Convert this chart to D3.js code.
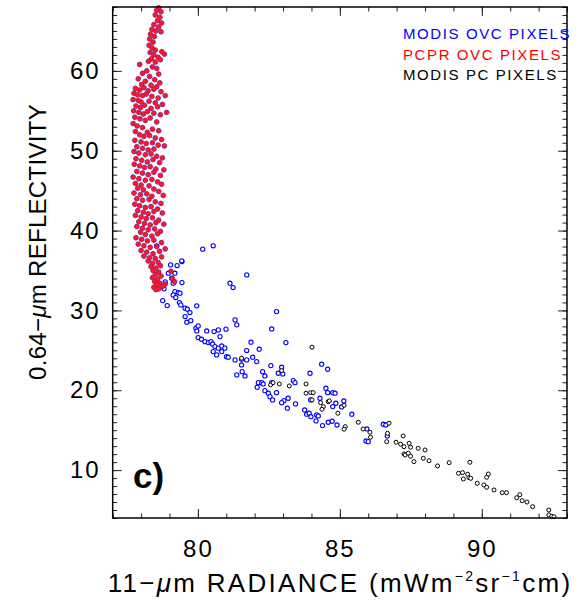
<!DOCTYPE html>
<html>
<head>
<meta charset="utf-8">
<script src="https://cdn.jsdelivr.net/npm/d3@7"></script>
<style>
body { margin: 0; background: #fff; }
text { font-family: "Liberation Sans", Arial, sans-serif; }
</style>
</head>
<body>
<div id="my_dataviz"></div>
<script>
// 11-um radiance vs 0.64-um reflectivity, panel c)
var xMajor = [80, 85, 90];
var xMinor = d3.range(77, 94);
var yMajor = [10, 20, 30, 40, 50, 60];
var yMinor = d3.range(4, 69);

var legendLabels = ["MODIS OVC PIXELS", "PCPR OVC PIXELS", "MODIS PC PIXELS"];
var legendColors = ["#0000ff", "#ff0000", "#000000"];

// MODIS overcast pixels (blue) not hidden under the PCPR points
var modisOvc = [
  [80.17,37.67],[80.54,38.09],[78.55,38.09],[79.04,35.70],[79.27,35.62],[79.44,36.12],[79.19,34.66],
  [78.85,33.57],[79.44,33.49],[81.72,34.45],[81.13,33.41],[81.24,32.86],[78.81,32.70],[79.19,32.36],
  [79.31,32.23],[79.13,31.94],[79.22,31.61],[78.76,31.23],[78.92,30.60],[79.35,30.98],[79.40,30.69],
  [79.55,30.28],[79.63,30.15],[79.72,29.73],[79.96,30.57],[79.55,29.23],[79.61,28.52],[79.75,28.72],
  [82.77,29.85],[81.31,28.81],[81.37,28.19],[79.93,27.77],[80.01,28.06],[79.96,27.43],[80.31,27.43],
  [80.57,27.35],[80.72,27.56],[80.99,27.65],[80.78,26.72],[82.60,27.68],[80.01,26.60],[80.13,26.39],
  [80.25,26.09],[80.37,25.97],[80.46,26.09],[80.52,25.80],[80.60,25.47],[80.72,25.27],[80.84,25.55],
  [80.95,25.27],[80.54,24.84],[80.66,24.43],[80.84,24.84],[81.01,24.21],[81.07,24.14],[81.87,26.02],
  [82.16,25.14],[81.72,24.97],[83.10,25.97],[81.31,23.80],[81.54,23.89],[81.72,23.80],[81.93,24.14],
  [82.07,23.59],[81.54,23.17],[82.57,23.09],[82.95,22.88],[82.83,22.13],[82.99,22.05],[82.28,22.33],
  [82.36,21.79],[81.56,22.33],[81.66,21.79],[81.37,21.92],[82.13,20.95],[82.25,20.95],[82.09,20.38],
  [82.30,20.79],[82.60,20.95],[82.36,19.95],[82.48,19.63],[82.54,19.20],[82.77,19.70],[82.63,18.79],
  [83.36,21.21],[83.42,20.95],[83.03,18.70],[82.95,18.45],[83.18,19.00],[83.44,18.29],[83.15,17.75],
  [84.36,23.26],[84.57,22.63],[83.95,22.13],[84.51,20.25],[84.57,19.70],[84.75,19.70],[84.83,19.63],
  [83.97,18.79],[84.30,19.00],[85.14,18.66],[84.86,18.37],[84.75,17.95],[85.06,17.91],[83.76,17.53],
  [83.83,17.00],[83.92,17.12],[83.98,16.69],[84.18,16.91],[84.24,16.78],[84.16,16.16],[84.59,15.99],
  [84.73,16.12],[84.39,15.57],[84.90,15.65],[85.42,17.00],[85.95,15.15],[86.53,15.74],[86.62,15.65],
  [86.67,14.28],[85.92,13.65],[86.00,13.56],[79.43,36.21],[78.96,34.66],[79.08,34.04],[79.13,33.41],
  [79.37,32.16]
];

// PCPR overcast pixels (red)
var pcprOvc = [
  [78.62,67.9],[78.55,67.6],[78.70,67.4],[78.50,67.0],[78.66,66.7],[78.58,66.3],[78.72,66.0],
  [78.45,65.8],[78.62,65.5],[78.38,65.2],[78.52,65.0],[78.70,64.9],[78.33,64.6],[78.47,64.3],
  [78.30,64.0],[78.42,63.6],[78.28,63.2],[78.38,62.9],[78.50,62.6],[78.32,62.3],[78.45,62.0],
  [78.73,62.4],[78.82,62.1],[78.60,61.7],[78.36,61.5],[78.26,61.2],[78.68,61.4],[78.50,61.1],
  [77.95,60.8],[78.40,60.5],[78.55,60.3],[78.20,60.0],[78.05,59.7],[78.62,59.6],[78.30,59.3],
  [77.90,59.0],[78.48,58.9],[78.15,58.7],[78.66,58.5],[78.02,58.3],[78.35,58.2],[78.55,58.0],
  [77.80,57.8],[77.95,57.6],[78.10,57.9],[78.25,57.5],[78.45,57.7],[78.70,57.4],[77.75,57.2],
  [77.88,57.0],[78.05,56.9],[78.18,57.1],[78.38,56.8],[78.60,56.6],[78.85,56.9],[77.72,56.4],
  [77.90,56.3],[78.00,56.1],[78.28,56.2],[78.50,56.0],[78.75,55.8],[77.82,55.6],[77.98,55.4],
  [78.12,55.7],[78.35,55.3],[78.58,55.5],[77.74,55.0],[77.92,54.8],[78.08,54.6],[78.22,54.9],
  [78.45,54.7],[78.68,54.5],[78.90,54.8],[77.78,54.2],[77.96,54.0],[78.15,53.8],[78.32,54.1],
  [78.55,53.6],[77.72,53.4],[77.86,53.1],[78.05,52.9],[78.40,52.7],[78.62,52.5],[77.80,52.4],
  [78.22,52.3],
  [77.95,52.0],[78.10,51.8],[78.30,51.9],[78.50,51.6],[78.72,51.4],[77.78,51.3],[78.00,51.1],
  [78.18,50.9],[78.40,51.0],[78.60,50.7],[78.82,50.6],[77.85,50.5],[78.05,50.3],[78.25,50.1],
  [78.45,50.2],[77.75,49.9],[77.92,49.7],[78.15,49.5],[78.35,49.6],[78.55,49.3],[78.75,49.1],
  [77.82,49.0],[78.02,48.8],[78.22,48.6],[78.42,48.9],[78.65,48.5],[77.76,48.3],[77.95,48.1],
  [78.12,47.9],[78.32,48.0],[78.52,47.7],[78.80,47.6],[77.85,47.4],[78.05,47.2],[78.25,47.0],
  [78.45,47.3],[78.68,46.9],[77.72,46.7],[77.92,46.5],[78.15,46.3],[78.38,46.4],[78.58,46.1],
  [77.80,45.9],[78.00,45.7],[78.28,45.6],[78.72,45.8],
  [77.88,45.3],[78.08,45.1],[78.45,45.2],[78.62,44.9],[77.75,44.7],[77.98,44.5],[78.20,44.6],
  [78.38,44.3],[78.78,44.4],[77.85,44.0],[78.05,43.8],[78.28,43.9],[78.50,43.6],[78.70,43.4],
  [77.78,43.3],[77.95,43.1],[78.15,42.9],[78.35,43.0],[78.58,42.7],[77.88,42.5],[78.08,42.3],
  [78.25,42.1],[78.45,42.4],[78.75,42.2],[77.80,41.9],[78.00,41.7],[78.18,41.5],[78.40,41.6],
  [78.62,41.3],[77.92,41.1],[78.12,40.9],[78.32,40.7],[78.52,41.0],[78.80,40.8],[77.85,40.5],
  [78.05,40.3],[78.25,40.1],[78.48,40.2],[78.68,39.9],[77.98,39.8],
  [78.15,39.5],[78.38,39.3],[78.58,39.6],[77.82,39.1],[78.02,38.9],[78.22,38.7],[78.45,38.8],
  [78.72,38.5],[77.90,38.3],[78.10,38.1],[78.32,37.9],[78.55,38.0],[78.85,37.7],[78.00,37.5],
  [78.20,37.3],[78.42,37.1],[78.65,37.4],[78.10,36.8],[78.30,36.6],[78.50,36.5],[78.72,36.7],
  [78.25,36.2],[78.40,35.9],[78.60,36.0],[78.35,35.5],[78.52,35.3],[78.68,35.6],[78.42,35.0],
  [78.62,34.8],[79.05,34.9],
  [78.50,34.5],[78.70,34.3],[78.40,34.1],[78.58,33.9],[79.10,34.0],[79.18,33.6],[78.48,33.6],
  [78.66,33.4],[78.55,33.2],[78.75,33.0],[78.45,32.9],[78.62,32.7],[78.85,33.3],[78.52,32.6]
];

// MODIS partly cloudy pixels (black)
var modisPc = [
  [81.54,24.01],[82.95,22.46],[82.56,20.67],[82.65,20.95],[82.87,20.79],[83.22,20.54],[84.02,25.39],
  [83.81,20.79],[83.81,19.63],[83.97,19.70],[84.06,19.70],[84.02,18.79],[84.32,18.45],[84.42,17.95],
  [84.37,17.62],[84.59,18.57],[84.63,18.66],[85.15,18.12],[84.93,17.12],[85.19,15.44],[85.15,15.12],
  [85.65,15.99],[85.82,15.15],[86.06,14.74],[86.08,14.11],[86.73,15.87],[86.68,14.61],[86.65,13.56],
  [87.23,14.28],[86.98,13.49],[87.14,13.24],[87.26,12.93],[87.44,13.36],[87.49,12.86],[87.76,12.73],
  [88.00,12.52],[87.26,12.02],[87.30,11.89],[87.41,12.11],[87.49,11.73],[87.94,11.48],[87.61,11.06],
  [88.14,11.18],[88.44,10.52],[88.85,10.93],[89.58,10.98],[89.18,9.60],[89.32,9.68],[89.35,8.89],
  [89.50,9.48],[89.55,9.05],[89.61,8.97],[90.17,9.10],[90.23,9.51],[89.84,8.35],[90.07,8.14],
  [90.17,7.85],[90.43,7.51],[90.72,7.17],[90.87,7.17],[91.23,6.54],[91.34,6.92],[91.42,6.17],
  [91.59,6.00],[91.79,5.42],[92.36,5.00],[92.36,4.38],[92.46,4.21],[92.54,4.16]
];

var margin = {top: 7, right: 19, bottom: 82, left: 112.7},
    width = 586 - margin.left - margin.right,
    height = 600 - margin.top - margin.bottom;

var svg = d3.select("#my_dataviz")
  .append("svg")
  .attr("width", 586)
  .attr("height", 600)
  .append("g")
  .attr("transform", "translate(" + margin.left + "," + margin.top + ")");

var x = d3.scaleLinear().domain([77, 93]).range([0, width]);
var y = d3.scaleLinear().domain([4, 68]).range([height, 0]);

// points
function dots(data, stroke, fill, r, sw, op) {
  svg.append("g")
    .attr("opacity", op)
    .selectAll("circle")
    .data(data)
    .enter()
    .append("circle")
    .attr("cx", function(d) { return x(d[0]); })
    .attr("cy", function(d) { return y(d[1]); })
    .attr("r", r)
    .attr("fill", fill)
    .attr("stroke", stroke)
    .attr("stroke-width", sw);
}
dots(modisOvc, "#0000ff", "#ffffff", 2.1, 1.1, 1);
dots(modisPc, "#000000", "#ffffff", 2.0, 1.0, 1);
dots(pcprOvc, "#4a20c0", "none", 2.4, 0.9, 0.85);
dots(pcprOvc, "#d8103a", "#ff1c1c", 2.0, 1.0, 1);

// axes, ticks inward on all four sides
function styleAxis(g) {
  g.select(".domain").remove();
  g.selectAll(".tick line").attr("stroke", "#222").attr("stroke-width", 1);
}
svg.append("g").attr("transform", "translate(0," + height + ")")
  .call(d3.axisBottom(x).tickValues(xMinor).tickSize(-4.5).tickFormat("")).call(styleAxis);
svg.append("g").attr("transform", "translate(0," + height + ")")
  .call(d3.axisBottom(x).tickValues(xMajor).tickSize(-9).tickPadding(22)).call(styleAxis);
svg.append("g")
  .call(d3.axisTop(x).tickValues(xMinor).tickSize(-4.5).tickFormat("")).call(styleAxis);
svg.append("g")
  .call(d3.axisTop(x).tickValues(xMajor).tickSize(-9).tickFormat("")).call(styleAxis);
svg.append("g")
  .call(d3.axisLeft(y).tickValues(yMinor).tickSize(-4.5).tickFormat("")).call(styleAxis);
svg.append("g")
  .call(d3.axisLeft(y).tickValues(yMajor).tickSize(-9).tickPadding(12)).call(styleAxis);
svg.append("g").attr("transform", "translate(" + width + ",0)")
  .call(d3.axisRight(y).tickValues(yMinor).tickSize(-4.5).tickFormat("")).call(styleAxis);
svg.append("g").attr("transform", "translate(" + width + ",0)")
  .call(d3.axisRight(y).tickValues(yMajor).tickSize(-9).tickFormat("")).call(styleAxis);

svg.selectAll(".tick text")
  .attr("font-family", "'Liberation Sans', Arial, sans-serif")
  .attr("font-size", 24)
  .attr("fill", "#000")
  .style("letter-spacing", "2px");

svg.append("rect")
  .attr("width", width)
  .attr("height", height)
  .attr("fill", "none")
  .attr("stroke", "#000")
  .attr("stroke-width", 1.5);

// legend
svg.append("g")
  .selectAll("text")
  .data(legendLabels)
  .enter()
  .append("text")
  .attr("x", 403 - margin.left)
  .attr("y", function(d, i) { return 32.3 + i * 20.4; })
  .attr("font-size", 15)
  .attr("fill", function(d, i) { return legendColors[i]; })
  .style("letter-spacing", "1.6px")
  .text(function(d) { return d; });

// panel label
svg.append("text")
  .attr("x", 133 - margin.left)
  .attr("y", 481)
  .attr("font-size", 35)
  .attr("font-weight", "bold")
  .text("c)");

// axis titles
var xt = svg.append("text")
  .attr("x", 340 - margin.left)
  .attr("y", 592 - margin.top)
  .attr("text-anchor", "middle")
  .attr("font-size", 26)
  .style("letter-spacing", "2.3px");
xt.append("tspan").text("11\u2212");
xt.append("tspan").attr("font-style", "italic").text("\u03bc");
xt.append("tspan").text("m RADIANCE (mWm");
xt.append("tspan").attr("font-size", 14).attr("dy", -11).text("\u22122");
xt.append("tspan").attr("dy", 11).text("sr");
xt.append("tspan").attr("font-size", 14).attr("dy", -11).text("\u22121");
xt.append("tspan").attr("dy", 11).text("cm)");

var yt = svg.append("text")
  .attr("transform", "translate(" + (46 - margin.left) + "," + (242 - margin.top) + ") rotate(-90)")
  .attr("text-anchor", "middle")
  .attr("font-size", 24)
  .style("letter-spacing", "0.3px");
yt.append("tspan").text("0.64\u2212");
yt.append("tspan").attr("font-style", "italic").text("\u03bc");
yt.append("tspan").text("m REFLECTIVITY");
</script>
</body>
</html>
